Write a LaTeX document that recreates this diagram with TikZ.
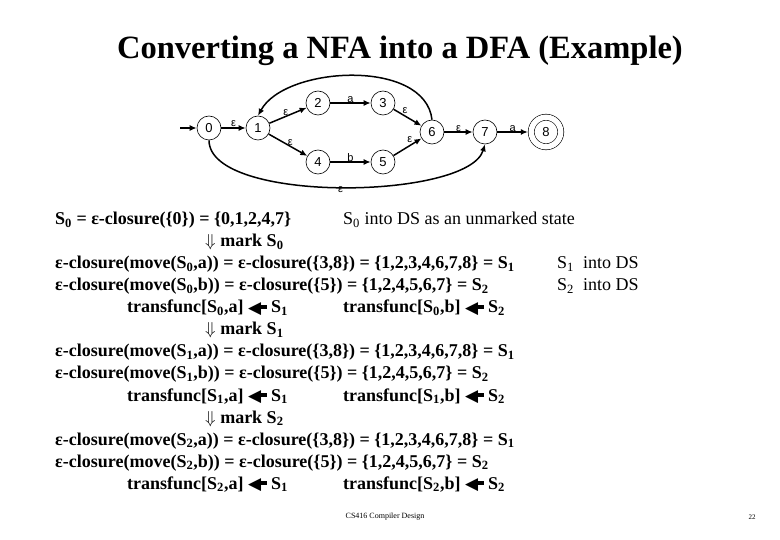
\documentclass[tikz,border=0pt]{standalone}
\usepackage{fontspec}
\setmainfont{Liberation Serif}
\newfontfamily\dejavu{DejaVu Sans}
\newfontfamily\lsans{Liberation Sans}
\usetikzlibrary{arrows.meta}
\newcommand\Ss[1]{S\textsubscript{#1}}
\newcommand\larrw{\mbox{\dejavu\fontsize{17}{17}\selectfont\raisebox{-0.5pt}{\char"25C0}}\kern-3.5pt\rule[0.2em]{0.5em}{0.22em}}
\newcommand\dwn{$\Downarrow$}
\begin{document}
\begin{tikzpicture}[x=1pt,y=-1pt,
  state/.style={circle,draw,line width=0.6pt,minimum size=24pt,inner sep=0pt,font=\lsans\fontsize{13}{13}\selectfont},
  acc/.style={state,minimum size=29.5pt,double,double distance=5.5pt,outer sep=3.4pt},
  e/.style={line width=1.5pt,-{Latex[length=7pt,width=6pt]}},
  lbl/.style={font=\lsans\fontsize{11}{11}\selectfont,inner sep=1pt},
  txt/.style={anchor=base west,inner sep=0pt,font=\bfseries\fontsize{18}{18}\selectfont},
  txr/.style={anchor=base west,inner sep=0pt,font=\fontsize{18}{18}\selectfont}]
\useasboundingbox (0,0) rectangle (780,540);

\node[font=\bfseries\fontsize{32.5}{32.5}\selectfont] (title) at (400,51) {Converting a NFA into a DFA (Example)};

% NFA
\coordinate (start) at (180,128);
\node[state] (n0) at (209,128) {0};
\node[state] (n1) at (258,128) {1};
\node[state] (n2) at (318,103) {2};
\node[state] (n3) at (383,103) {3};
\node[state] (n4) at (318,162) {4};
\node[state] (n5) at (383,162) {5};
\node[state] (n6) at (432,132) {6};
\node[state] (n7) at (485,132) {7};
\node[acc]   (n8) at (546,132) {8};

\draw[e] (start) -- (n0);
\draw[e] (n0) -- node[lbl,above] {ε} (n1);
\draw[e] (n1) -- node[lbl,above left=-2pt] {ε} (n2);
\draw[e] (n1) -- node[lbl,above right=-2pt] {ε} (n4);
\draw[e] (n2) -- node[lbl,above=-1pt] {a} (n3);
\draw[e] (n4) -- node[lbl,above=-1pt] {b} (n5);
\draw[e] (n3) -- node[lbl,above right=-1pt,pos=0.3] {ε} (n6);
\draw[e] (n5) -- node[lbl,above left=-1pt,pos=0.7] {ε} (n6);
\draw[e] (n6) -- node[lbl,above=-1pt] {ε} (n7);
\draw[e] (n7) -- node[lbl,above=-1pt] {a} (n8);
\draw[e] (n6.north) .. controls (425,58) and (285,66) .. (n1.north);
\draw[e] (n0.south) .. controls (209,204) and (468,200) .. node[lbl,pos=0.5,below=-2pt] {ε} (n7.south);

% text
\node[txt] (l1) at (55,225) {\Ss0 = ε-closure(\{0\}) = \{0,1,2,4,7\}};
\node[txr] (r1) at (343,225) {\Ss0 into DS as an unmarked state};
\node[txt] (m0) at (205,247) {\dwn\ mark \Ss0};
\node[txt] (l2) at (55,269) {ε-closure(move(\Ss0,a)) = ε-closure(\{3,8\}) = \{1,2,3,4,6,7,8\} = \Ss1};
\node[txr] (r2) at (557,269) {\Ss1\ \ into DS};
\node[txt] (l3) at (55,291) {ε-closure(move(\Ss0,b)) = ε-closure(\{5\}) = \{1,2,4,5,6,7\} = \Ss2};
\node[txr] (r3) at (557,291) {\Ss2\ \ into DS};
\node[txt] (t0a) at (127,313) {transfunc[\Ss0,a] \larrw\ \Ss1};
\node[txt] (t0b) at (343,313) {transfunc[\Ss0,b] \larrw\ \Ss2};
\node[txt] (m1) at (205,335) {\dwn\ mark \Ss1};
\node[txt] (l4) at (55,357) {ε-closure(move(\Ss1,a)) = ε-closure(\{3,8\}) = \{1,2,3,4,6,7,8\} = \Ss1};
\node[txt] (l5) at (55,379) {ε-closure(move(\Ss1,b)) = ε-closure(\{5\}) = \{1,2,4,5,6,7\} = \Ss2};
\node[txt] (t1a) at (127,401) {transfunc[\Ss1,a] \larrw\ \Ss1};
\node[txt] (t1b) at (343,401) {transfunc[\Ss1,b] \larrw\ \Ss2};
\node[txt] (m2) at (205,423) {\dwn\ mark \Ss2};
\node[txt] (l6) at (55,445) {ε-closure(move(\Ss2,a)) = ε-closure(\{3,8\}) = \{1,2,3,4,6,7,8\} = \Ss1};
\node[txt] (l7) at (55,467) {ε-closure(move(\Ss2,b)) = ε-closure(\{5\}) = \{1,2,4,5,6,7\} = \Ss2};
\node[txt] (t2a) at (127,489) {transfunc[\Ss2,a] \larrw\ \Ss1};
\node[txt] (t2b) at (343,489) {transfunc[\Ss2,b] \larrw\ \Ss2};

\node[font=\fontsize{8}{8}\selectfont] (foot) at (385,517) {CS416 Compiler Design};
\node[font=\fontsize{7}{7}\selectfont] (page) at (752,517) {22};
\end{tikzpicture}
\end{document}
